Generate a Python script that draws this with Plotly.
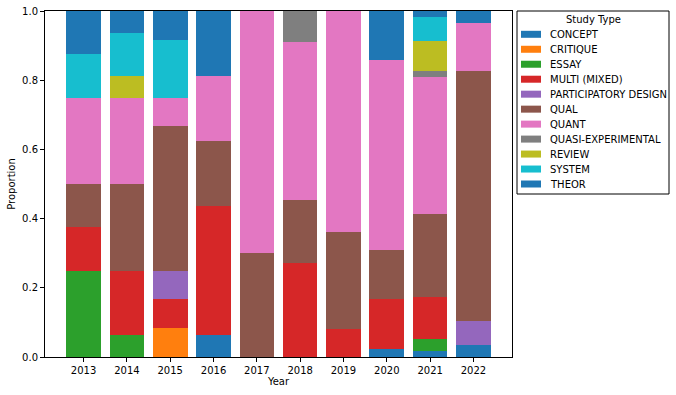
import plotly.graph_objects as go

years = ["2013", "2014", "2015", "2016", "2017", "2018", "2019", "2020", "2021", "2022"]

# paper counts per study type per year
concept = [0, 0, 0, 1, 0, 0, 0, 1, 1, 1]
critique = [0, 0, 1, 0, 0, 0, 0, 0, 0, 0]
essay = [2, 1, 0, 0, 0, 0, 0, 0, 2, 0]
multi = [1, 3, 1, 6, 0, 3, 2, 6, 7, 0]
participatory = [0, 0, 1, 0, 0, 0, 0, 0, 0, 2]
qual = [1, 4, 5, 3, 3, 2, 7, 6, 14, 21]
quant = [2, 4, 1, 3, 7, 5, 16, 23, 23, 4]
quasi = [0, 0, 0, 0, 0, 1, 0, 0, 1, 0]
review = [0, 1, 0, 0, 0, 0, 0, 0, 5, 0]
system = [1, 2, 2, 0, 0, 0, 0, 0, 4, 0]
theor = [1, 1, 1, 3, 0, 0, 0, 6, 1, 1]

series = [
    ("CONCEPT", concept, "#1f77b4"),
    ("CRITIQUE", critique, "#ff7f0e"),
    ("ESSAY", essay, "#2ca02c"),
    ("MULTI (MIXED)", multi, "#d62728"),
    ("PARTICIPATORY DESIGN", participatory, "#9467bd"),
    ("QUAL", qual, "#8c564b"),
    ("QUANT", quant, "#e377c2"),
    ("QUASI-EXPERIMENTAL", quasi, "#7f7f7f"),
    ("REVIEW", review, "#bcbd22"),
    ("SYSTEM", system, "#17becf"),
    ("THEOR", theor, "#1f77b4"),
]

W, H = 676, 395
L, T, R, B = 45, 11, 164, 38
pw, ph = W - L - R, H - T - B

def px(x):  # pixel -> paper x
    return (x - L) / pw

def py(y):  # pixel -> paper y
    return (T + ph - y) / ph

totals = [sum(s[1][i] for s in series) for i in range(len(years))]

fig = go.Figure()
for name, counts, color in series:
    fig.add_trace(go.Bar(
        x=list(range(len(years))),
        y=[c / t for c, t in zip(counts, totals)],
        name=name,
        marker=dict(color=color, line_width=0),
        width=0.8,
        showlegend=False,
    ))

# matplotlib-style legend drawn by hand (plotly's rows are too tall)
shapes = [dict(type="rect", xref="paper", yref="paper",
               x0=px(517), x1=px(669), y0=py(194), y1=py(11),
               line=dict(color="black", width=1), fillcolor="white")]
annotations = [dict(text="Study Type", xref="paper", yref="paper",
                    x=px(593), y=py(19.5), xanchor="center", yanchor="middle",
                    showarrow=False, font=dict(size=10))]
for i, (name, _, color) in enumerate(series):
    yc = 34.3 + i * 14.97
    shapes.append(dict(type="rect", xref="paper", yref="paper",
                       x0=px(521), x1=px(541), y0=py(yc + 3.5), y1=py(yc - 3.5),
                       line_width=0, fillcolor=color))
    annotations.append(dict(text=name, xref="paper", yref="paper",
                            x=px(548), y=py(yc), xanchor="left", yanchor="middle",
                            showarrow=False, font=dict(size=10)))

axis_common = dict(
    showline=True, linecolor="black", linewidth=1, mirror=True,
    showgrid=False, zeroline=False, automargin=False,
    ticks="outside", ticklen=4, tickcolor="black",
    ticklabeloverflow="allow",
    tickfont=dict(size=10, color="black"),
)

fig.update_layout(
    barmode="stack",
    width=W, height=H,
    margin=dict(l=L, r=R, t=T, b=B, autoexpand=False),
    paper_bgcolor="white", plot_bgcolor="white",
    font=dict(family="DejaVu Sans", size=10, color="black"),
    showlegend=False,
    xaxis=dict(
        tickmode="array", tickvals=list(range(len(years))), ticktext=years,
        range=[-0.89, 9.89],
        title=dict(text="Year", font=dict(size=10), standoff=2),
        **axis_common,
    ),
    yaxis=dict(
        range=[0, 1], tickvals=[0, 0.2, 0.4, 0.6, 0.8, 1.0],
        ticktext=["0.0", "0.2", "0.4", "0.6", "0.8", "1.0"],
        title=dict(text="Proportion", font=dict(size=10), standoff=4),
        **axis_common,
    ),
    shapes=shapes,
    annotations=annotations,
)

# drop the browser's default 8px body margin so the figure fills the window
fig.write_html("out.html", config={"displayModeBar": False},
               post_script="document.body.style.margin = '0';")
